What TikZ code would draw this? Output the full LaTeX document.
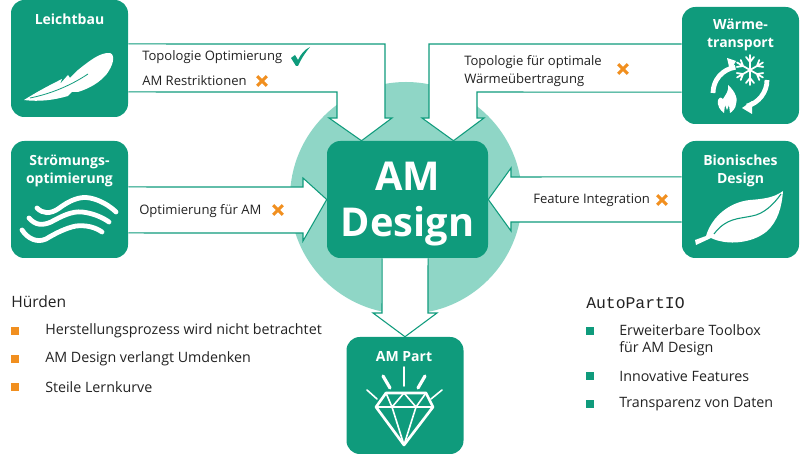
\documentclass[tikz,border=0pt]{standalone}
\usepackage{fontspec}
\setmainfont{Open Sans}
\setmonofont{Liberation Mono}
\usetikzlibrary{positioning}
\usetikzlibrary{shapes.misc}

\definecolor{amgreen}{HTML}{0F9B7C}
\definecolor{amlight}{HTML}{8FD6C6}
\definecolor{amorange}{HTML}{F18F1F}
\definecolor{amtext}{HTML}{222222}

\tikzset{
  topicbox/.style={fill=amgreen,rounded corners=10pt,minimum width=87.75pt,minimum height=87.75pt,inner sep=0pt},
  topictitle/.style={text=white,font=\bfseries\fontsize{10.5}{13}\selectfont,align=center,inner sep=0pt},
  blockarrow/.style={draw=amgreen,fill=white,line width=0.8pt,line join=miter},
  bodytext/.style={text=amtext,font=\fontsize{9.8}{13.5}\selectfont,anchor=west,inner sep=0pt,align=left},
  listtext/.style={bodytext,font=\fontsize{10.7}{12.8}\selectfont},
  crossmk/.style={cross out,draw=amorange,line width=2.2pt,minimum size=5pt,inner sep=0pt},
  bulletor/.style={fill=amorange,minimum size=6pt,inner sep=0pt},
  bulletgr/.style={fill=amgreen,minimum size=6pt,inner sep=0pt},
  iconline/.style={draw=white,line cap=round,line join=round},
}

\begin{document}
\begin{tikzpicture}[x=0.75pt,y=-0.75pt]
\useasboundingbox (0,0) rectangle (800,466);

\fill[amlight] (406,198) circle [radius=116];

\node[topicbox] (leichtbau) at (69.5,58.5) {};
\node[topicbox] (stroemung) at (69.5,199.5) {};
\node[topicbox] (waerme) at (740.5,65.5) {};
\node[topicbox] (bionik) at (740.5,199.5) {};
\node[topicbox] (ampart) at (405,395.5) {};
\node[fill=amgreen,rounded corners=10pt,minimum width=120.75pt,minimum height=87.75pt,inner sep=0pt] (amdesign) at (407.5,199.5) {};

% block arrows
\draw[blockarrow] ([yshift=10.9pt]leichtbau.east) -- (385,44) -- (385,118) -- (392,118)
  -- ([xshift=-34.5pt]amdesign.north) -- (329,118) -- (337,118) -- (337,92) -- ([yshift=-25.1pt]leichtbau.east);
\draw[blockarrow] ([yshift=16.1pt]waerme.west) -- (429,44) -- (429,118) -- (422,118)
  -- ([xshift=34.5pt]amdesign.north) -- (484,118) -- (477,118) -- (477,92) -- ([yshift=-20pt]waerme.west);
\draw[blockarrow] ([yshift=9.4pt]stroemung.east) -- (303,187) -- (303,178) -- (amdesign.west)
  -- (303,241) -- (303,233) -- ([yshift=-25.1pt]stroemung.east);
\draw[blockarrow] ([yshift=17pt]bionik.west) -- (511,177) -- (511,168) -- (amdesign.east)
  -- (511,231) -- (511,222) -- ([yshift=-16.9pt]bionik.west);
\draw[blockarrow] ([xshift=-19pt]amdesign.south) -- (382,313) -- (373,313) -- (ampart.north)
  -- (437,313) -- (428,313) -- ([xshift=15.4pt]amdesign.south);

% centre label on top of the arrows
\node[text=white,font=\bfseries\fontsize{29.8}{34.5}\selectfont,align=center,inner sep=0pt] (amlabel) at (407.5,204) {AM\\Design};

\node[topictitle] (leichtbaut) at (69.5,19) {Leichtbau};
\node[topictitle] (stroemungt) at (69.5,171) {Strömungs-\\optimierung};
\node[topictitle] (waermet) at (740.5,35) {Wärme-\\transport};
\node[topictitle] (bionikt) at (740.5,171) {Bionisches\\Design};
\node[topictitle] (ampartt) at (404,357) {AM Part};

% arrow texts
\node[bodytext] (topo) at (142,57) {Topologie Optimierung};
\node[bodytext] (restr) at (142,81) {AM Restriktionen};
\node[bodytext] (optam) at (139,211) {Optimierung für AM};
\node[bodytext] (topow) at (464,71) {Topologie für optimale\\Wärmeübertragung};
\node[bodytext] (featint) at (533,200) {Feature Integration};
\node[crossmk] (xrestr) at (262,81) {};
\node[crossmk] (xoptam) at (278,210) {};
\node[crossmk] (xtopow) at (623,69) {};
\node[crossmk] (xfeat) at (662,200) {};
\fill[amgreen] (291,58) -- (295,55) -- (298,60) .. controls (301,54) and (304,50) .. (310,47)
  .. controls (305,53) and (301,59) .. (298,66) -- (296,66) -- cycle;

% lists
\node[bodytext,font=\fontsize{11.7}{14}\selectfont] (huerden) at (11,302) {Hürden};
\node[bulletor] (h1) at (15,331) {};
\node[bulletor] (h2) at (15,359) {};
\node[bulletor] (h3) at (15,387) {};
\node[listtext] (h1t) at (45,331) {Herstellungsprozess wird nicht betrachtet};
\node[listtext] (h2t) at (45,359) {AM Design verlangt Umdenken};
\node[listtext] (h3t) at (45,387) {Steile Lernkurve};

\node[bodytext,font=\ttfamily\fontsize{12.3}{14}\selectfont] (autopart) at (586,303) {AutoPartIO};
\node[bulletgr] (a1) at (590,331) {};
\node[bulletgr] (a2) at (590,376) {};
\node[bulletgr] (a3) at (590,404) {};
\node[listtext] (a1t) at (619,340) {Erweiterbare Toolbox\\für AM Design};
\node[listtext] (a2t) at (619,376) {Innovative Features};
\node[listtext] (a3t) at (619,404) {Transparenz von Daten};

% feather
\fill[white] (24,100) .. controls (40,90) and (52,84) .. (62,79) -- (60,84) -- (68,75) -- (70,78) -- (78,70)
  .. controls (88,62) and (100,52) .. (110,53) .. controls (116,55) and (113,66) .. (106,75)
  .. controls (96,86) and (84,90) .. (78,92) -- (72,92) -- (68,96) .. controls (54,100) and (40,102) .. (24,100) -- cycle;
\draw[amgreen,line width=0.6pt] (30,98) .. controls (50,94) and (70,86) .. (88,74);

% waves
\draw[iconline,line width=3.6pt] (37,208) .. controls (43,214) and (50,214) .. (58,209)
  .. controls (70,200) and (80,196) .. (90,198) .. controls (100,200) and (110,206) .. (116,212);
\draw[iconline,line width=3.6pt] (29,218) .. controls (35,225) and (42,226) .. (51,222)
  .. controls (62,216) and (72,211) .. (82,212) .. controls (92,213) and (102,217) .. (109,222);
\draw[iconline,line width=3.6pt] (22,230) .. controls (28,239) and (37,243) .. (46,239)
  .. controls (56,233) and (66,228) .. (76,226) .. controls (86,225) and (95,227) .. (102,232);

% snowflake and cycle
\foreach \ang in {30,90,150,210,270,330}{
  \draw[iconline,line width=1.3pt,shift={(750,70)},rotate=\ang] (0,0) -- (15,0) (8,0) -- (13,-4) (8,0) -- (13,4);
}
\draw[white,line width=3.6pt] (713,93) arc [start angle=180,end angle=262,radius=26];
\fill[white] (736,61) -- (727,58) -- (730,71) -- cycle;
\draw[white,line width=3.6pt] (767,80) arc [start angle=0,end angle=75,radius=27];
\fill[white] (742,108) -- (752,101) -- (752,114) -- cycle;
\fill[white] (728,85) .. controls (736,92) and (738,100) .. (736,104) .. controls (736,108) and (732,112) .. (730,113)
  -- (729,105) -- (727,110) -- (725,105) -- (724,113) .. controls (720,110) and (717,106) .. (718,100)
  .. controls (720,96) and (722,98) .. (723,99) .. controls (726,94) and (729,91) .. (728,85) -- cycle;

% leaf
\fill[white] (695,240) -- (706,236) .. controls (712,216) and (730,202) .. (750,200)
  .. controls (762,199) and (774,198) .. (783,191) .. controls (782,206) and (778,222) .. (766,232)
  .. controls (752,243) and (728,246) .. (711,238) -- (696,245) -- cycle;
\draw[amgreen,line width=0.8pt] (714,234) .. controls (726,218) and (738,219) .. (752,216) .. controls (764,214) and (774,204) .. (781,194);

% diamond
\draw[iconline,line width=1.2pt] (404,367) -- (404,386);
\draw[iconline,line width=2.4pt] (383,376) -- (390,388);
\draw[iconline,line width=2.4pt] (425,376) -- (418,388);
\draw[iconline,line width=1.2pt] (367,390) -- (377,399);
\draw[iconline,line width=1.2pt] (442,390) -- (431,399);
\draw[iconline,line width=2pt] (386,393) -- (426,393) -- (433,407) -- (404,445) -- (376,407) -- cycle;
\draw[iconline,line width=1.2pt] (376,407) -- (433,407) (386,393) -- (392,407) -- (404,393) -- (416,407) -- (426,393)
  (392,407) -- (404,445) -- (416,407);
\end{tikzpicture}
\end{document}
